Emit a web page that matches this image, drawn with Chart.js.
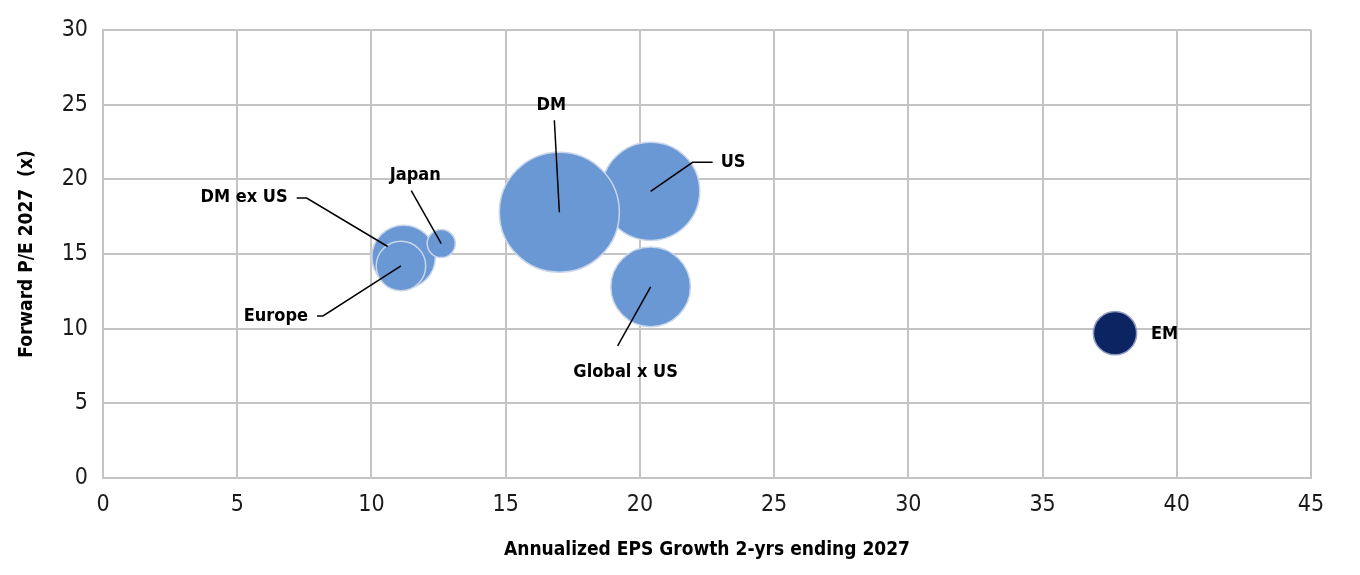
<!DOCTYPE html>
<html>
<head>
<meta charset="utf-8">
<script src="https://cdn.jsdelivr.net/npm/chart.js@4.4.1/dist/chart.umd.min.js"></script>
<style>
  html, body { margin: 0; padding: 0; background: #fff; }
  #wrap { width: 1360px; height: 575px; position: relative; }
</style>
</head>
<body>
<div id="wrap"><canvas id="bubbleChart"></canvas></div>
<script>
// --- Data ---
const regions   = ['US', 'Global x US', 'DM', 'DM ex US', 'Europe', 'Japan', 'EM'];
const epsGrowth = [20.4, 20.4, 17.0, 11.2, 11.1, 12.6, 37.7];   // x
const forwardPE = [19.2, 12.8, 17.8, 14.8, 14.2, 15.7, 9.7];    // y
const bubbleSize = [67, 44, 100, 28, 17, 5.5, 13];              // relative size

const xTicks = [0, 5, 10, 15, 20, 25, 30, 35, 40, 45];
const yTicks = [0, 5, 10, 15, 20, 25, 30];

// --- Look & label placement (pixels, relative to bubble centre) ---
const FONT = "'Liberation Sans Narrow', 'DejaVu Sans Condensed', 'Roboto', sans-serif";
const LIGHT_BLUE = '#6a98d5';
const NAVY = '#0c2461';

const labelLayout = {
    'DM':          { dx: -8,   dy: -107, align: 'center', line: [[-5, -92], [0, 0]] },
    'US':          { dx: 70,   dy: -29,  align: 'left',   line: [[62, -29], [42, -29], [0, 0]] },
    'Global x US': { dx: -25,  dy: 85,   align: 'center', line: [[-33, 59], [0, 0]] },
    'DM ex US':    { dx: -116, dy: -60,  align: 'right',  line: [[-107, -59], [-97, -59], [-16, -10.5]] },
    'Europe':      { dx: -93,  dy: 50,   align: 'right',  line: [[-84, 50], [-78, 50], [0, 0]] },
    'Japan':       { dx: -26,  dy: -68,  align: 'center', line: [[-30, -53], [0, 0]] },
    'EM':          { dx: 36,   dy: 1,    align: 'left',   line: null }
};

const points = regions.map((name, i) => ({
    x: epsGrowth[i],
    y: forwardPE[i],
    r: 6 * Math.sqrt(bubbleSize[i])
}));

// Draws the region names and their leader lines
const bubbleLabels = {
    id: 'bubbleLabels',
    afterDatasetsDraw(chart) {
        const ctx = chart.ctx;
        const meta = chart.getDatasetMeta(0);
        ctx.save();
        regions.forEach((name, i) => {
            const el = meta.data[i];
            const lay = labelLayout[name];
            if (!el || !lay) return;
            const cx = el.x, cy = el.y;

            if (lay.line) {
                ctx.beginPath();
                ctx.strokeStyle = '#000';
                ctx.lineWidth = 1.5;
                lay.line.forEach(([px, py], k) => {
                    if (k === 0) ctx.moveTo(cx + px, cy + py);
                    else ctx.lineTo(cx + px, cy + py);
                });
                ctx.stroke();
            }

            ctx.font = `bold 18px ${FONT}`;
            ctx.fillStyle = '#000';
            ctx.textAlign = lay.align;
            ctx.textBaseline = 'middle';
            ctx.fillText(name, cx + lay.dx, cy + lay.dy);
        });
        ctx.restore();
    }
};

new Chart(document.getElementById('bubbleChart'), {
    type: 'bubble',
    data: {
        datasets: [{
            data: points,
            backgroundColor: regions.map(n => n === 'EM' ? NAVY : LIGHT_BLUE),
            borderColor: regions.map(n => n === 'EM' ? '#8e9cc4' : '#c9d6ea'),
            borderWidth: 1.5
        }]
    },
    options: {
        responsive: true,
        maintainAspectRatio: false,
        animation: false,
        events: [],
        layout: { autoPadding: false, padding: { left: 0, right: 49, top: 30, bottom: 0 } },
        plugins: {
            legend: { display: false },
            tooltip: { enabled: false }
        },
        scales: {
            x: {
                type: 'linear',
                min: 0,
                max: 45,
                afterBuildTicks: (scale) => { scale.ticks = xTicks.map(v => ({ value: v })); },
                afterFit: (scale) => { scale.height = 97; },
                grid: { color: '#c4c4c4', lineWidth: 2, drawTicks: false },
                border: { color: '#c4c4c4', width: 2 },
                ticks: {
                    padding: 13,
                    color: '#1a1a1a',
                    font: { family: FONT, size: 23 }
                },
                title: {
                    display: true,
                    text: 'Annualized EPS Growth 2-yrs ending 2027',
                    color: '#000',
                    padding: { top: 4, bottom: 14 },
                    font: { family: FONT, size: 19, weight: 'bold' }
                }
            },
            y: {
                type: 'linear',
                min: 0,
                max: 30,
                afterBuildTicks: (scale) => { scale.ticks = yTicks.map(v => ({ value: v })); },
                afterFit: (scale) => { scale.width = 103; },
                grid: { color: '#c4c4c4', lineWidth: 2, drawTicks: false },
                border: { color: '#c4c4c4', width: 2 },
                ticks: {
                    padding: 15,
                    color: '#1a1a1a',
                    font: { family: FONT, size: 23 }
                },
                title: {
                    display: true,
                    text: 'Forward P/E 2027  (x)',
                    color: '#000',
                    padding: { top: 16, bottom: 0 },
                    font: { family: FONT, size: 19, weight: 'bold' }
                }
            }
        }
    },
    plugins: [bubbleLabels]
});
</script>
</body>
</html>
